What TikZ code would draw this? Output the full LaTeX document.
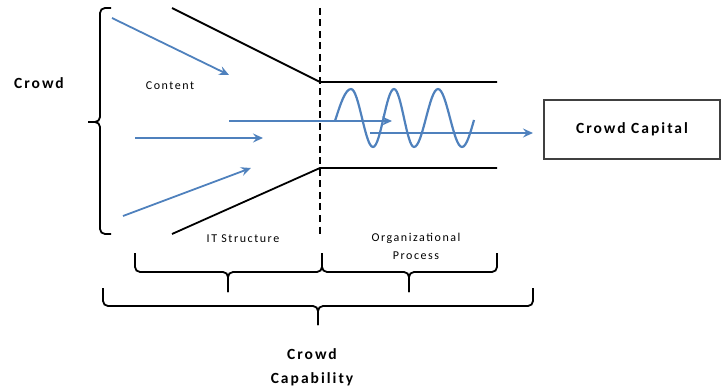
\documentclass[tikz,border=0pt]{standalone}
\usepackage{fontspec}
\setmainfont{Carlito}[LetterSpace=13]
\usetikzlibrary{arrows.meta}
\definecolor{oblue}{RGB}{79,129,189}
\begin{document}
\begin{tikzpicture}[x=1pt,y=-1pt,
  blk/.style={line width=1.8pt,black},
  barr/.style={line width=1.8pt,oblue,-{Stealth[length=10pt,width=9pt,inset=3.5pt]}},
  brace/.style={line width=1.8pt,black,rounded corners=5pt},
  small/.style={font=\fontsize{12}{14}\selectfont,inner sep=0pt},
  big/.style={font=\fontsize{15.5}{18}\selectfont\bfseries,inner sep=0pt}]
\useasboundingbox (0,0) rectangle (727,387);
% funnel
\coordinate (t0) at (172,8);
\coordinate (t1) at (320,82);
\coordinate (t2) at (497,82);
\coordinate (b0) at (172,234);
\coordinate (b1) at (320,168);
\coordinate (b2) at (497,168);
\draw[blk] (t0) -- (t1) -- (t2);
\draw[blk] (b0) -- (b1) -- (b2);
% dashed divider
\coordinate (d0) at (320,8);
\coordinate (d1) at (320,238);
\draw[line width=2.6pt,dash pattern=on 7pt off 4.5pt] (d0) -- (d1);
% left bracket
\coordinate (lb0) at (111,8);
\coordinate (lb1) at (100,8);
\coordinate (lbm) at (100,122);
\coordinate (lbt) at (88,122);
\coordinate (lb2) at (100,234);
\coordinate (lb3) at (111,234);
\draw[brace] (lb0) -- (lb1) -- (lbm) -- (lbt);
\draw[brace] (lb3) -- (lb2) -- (lbm) -- (lbt);
% blue arrows
\coordinate (a1s) at (112,18); \coordinate (a1e) at (229,75);
\coordinate (a2s) at (135,138); \coordinate (a2e) at (263,138);
\coordinate (a3s) at (123,216); \coordinate (a3e) at (251,168);
\coordinate (a4s) at (229,121); \coordinate (a4e) at (392,121);
\coordinate (a5s) at (370,133); \coordinate (a5e) at (533,133);
\draw[barr] (a1s) -- (a1e);
\draw[barr] (a2s) -- (a2e);
\draw[barr] (a3s) -- (a3e);
\draw[barr] (a4s) -- (a4e);
\draw[barr] (a5s) -- (a5e);
% wave
\draw[line width=2.2pt,oblue] (335,121) sin (351,89) cos (362,118) sin (373,147) cos (383.5,118) sin (394,89) cos (404,118) sin (414,147) cos (426,118) sin (438,89) cos (450,118) sin (462,147) cos (474,120);
% box
\node[draw=black!75,line width=1.2pt,minimum width=176pt,minimum height=59pt,inner sep=0pt,font=\fontsize{15.5}{18}\selectfont\bfseries] (cap) at (632,129.5) {Crowd Capital};
% labels
\node[big] (crowd) at (39,83) {Crowd};
\node[small] (content) at (170,86) {Content};
\node[small] (its) at (243,239) {IT Structure};
\node[small] (org) at (416,238) {Organizational};
\node[small] (proc) at (416,256) {Process};
\node[big] (cc1) at (312,354) {Crowd};
\node[big] (cc2) at (312,379) {Capability};
% lower braces
\coordinate (p1l) at (135,253); \coordinate (p1r) at (322,253);
\coordinate (p1m) at (228,272); \coordinate (p1t) at (228,292);
\coordinate (p1a) at (135,272); \coordinate (p1b) at (322,272);
\draw[brace] (p1l) -- (p1a) -- (p1m) -- (p1t);
\draw[brace] (p1r) -- (p1b) -- (p1m) -- (p1t);
\coordinate (p2l) at (322,253); \coordinate (p2r) at (497,253);
\coordinate (p2m) at (409,272); \coordinate (p2t) at (409,292);
\coordinate (p2a) at (322,272); \coordinate (p2b) at (497,272);
\draw[brace] (p2l) -- (p2a) -- (p2m) -- (p2t);
\draw[brace] (p2r) -- (p2b) -- (p2m) -- (p2t);
\coordinate (p3l) at (103,288); \coordinate (p3r) at (533,288);
\coordinate (p3m) at (318,306); \coordinate (p3t) at (318,325);
\coordinate (p3a) at (103,306); \coordinate (p3b) at (533,306);
\draw[brace] (p3l) -- (p3a) -- (p3m) -- (p3t);
\draw[brace] (p3r) -- (p3b) -- (p3m) -- (p3t);
\end{tikzpicture}
\end{document}
